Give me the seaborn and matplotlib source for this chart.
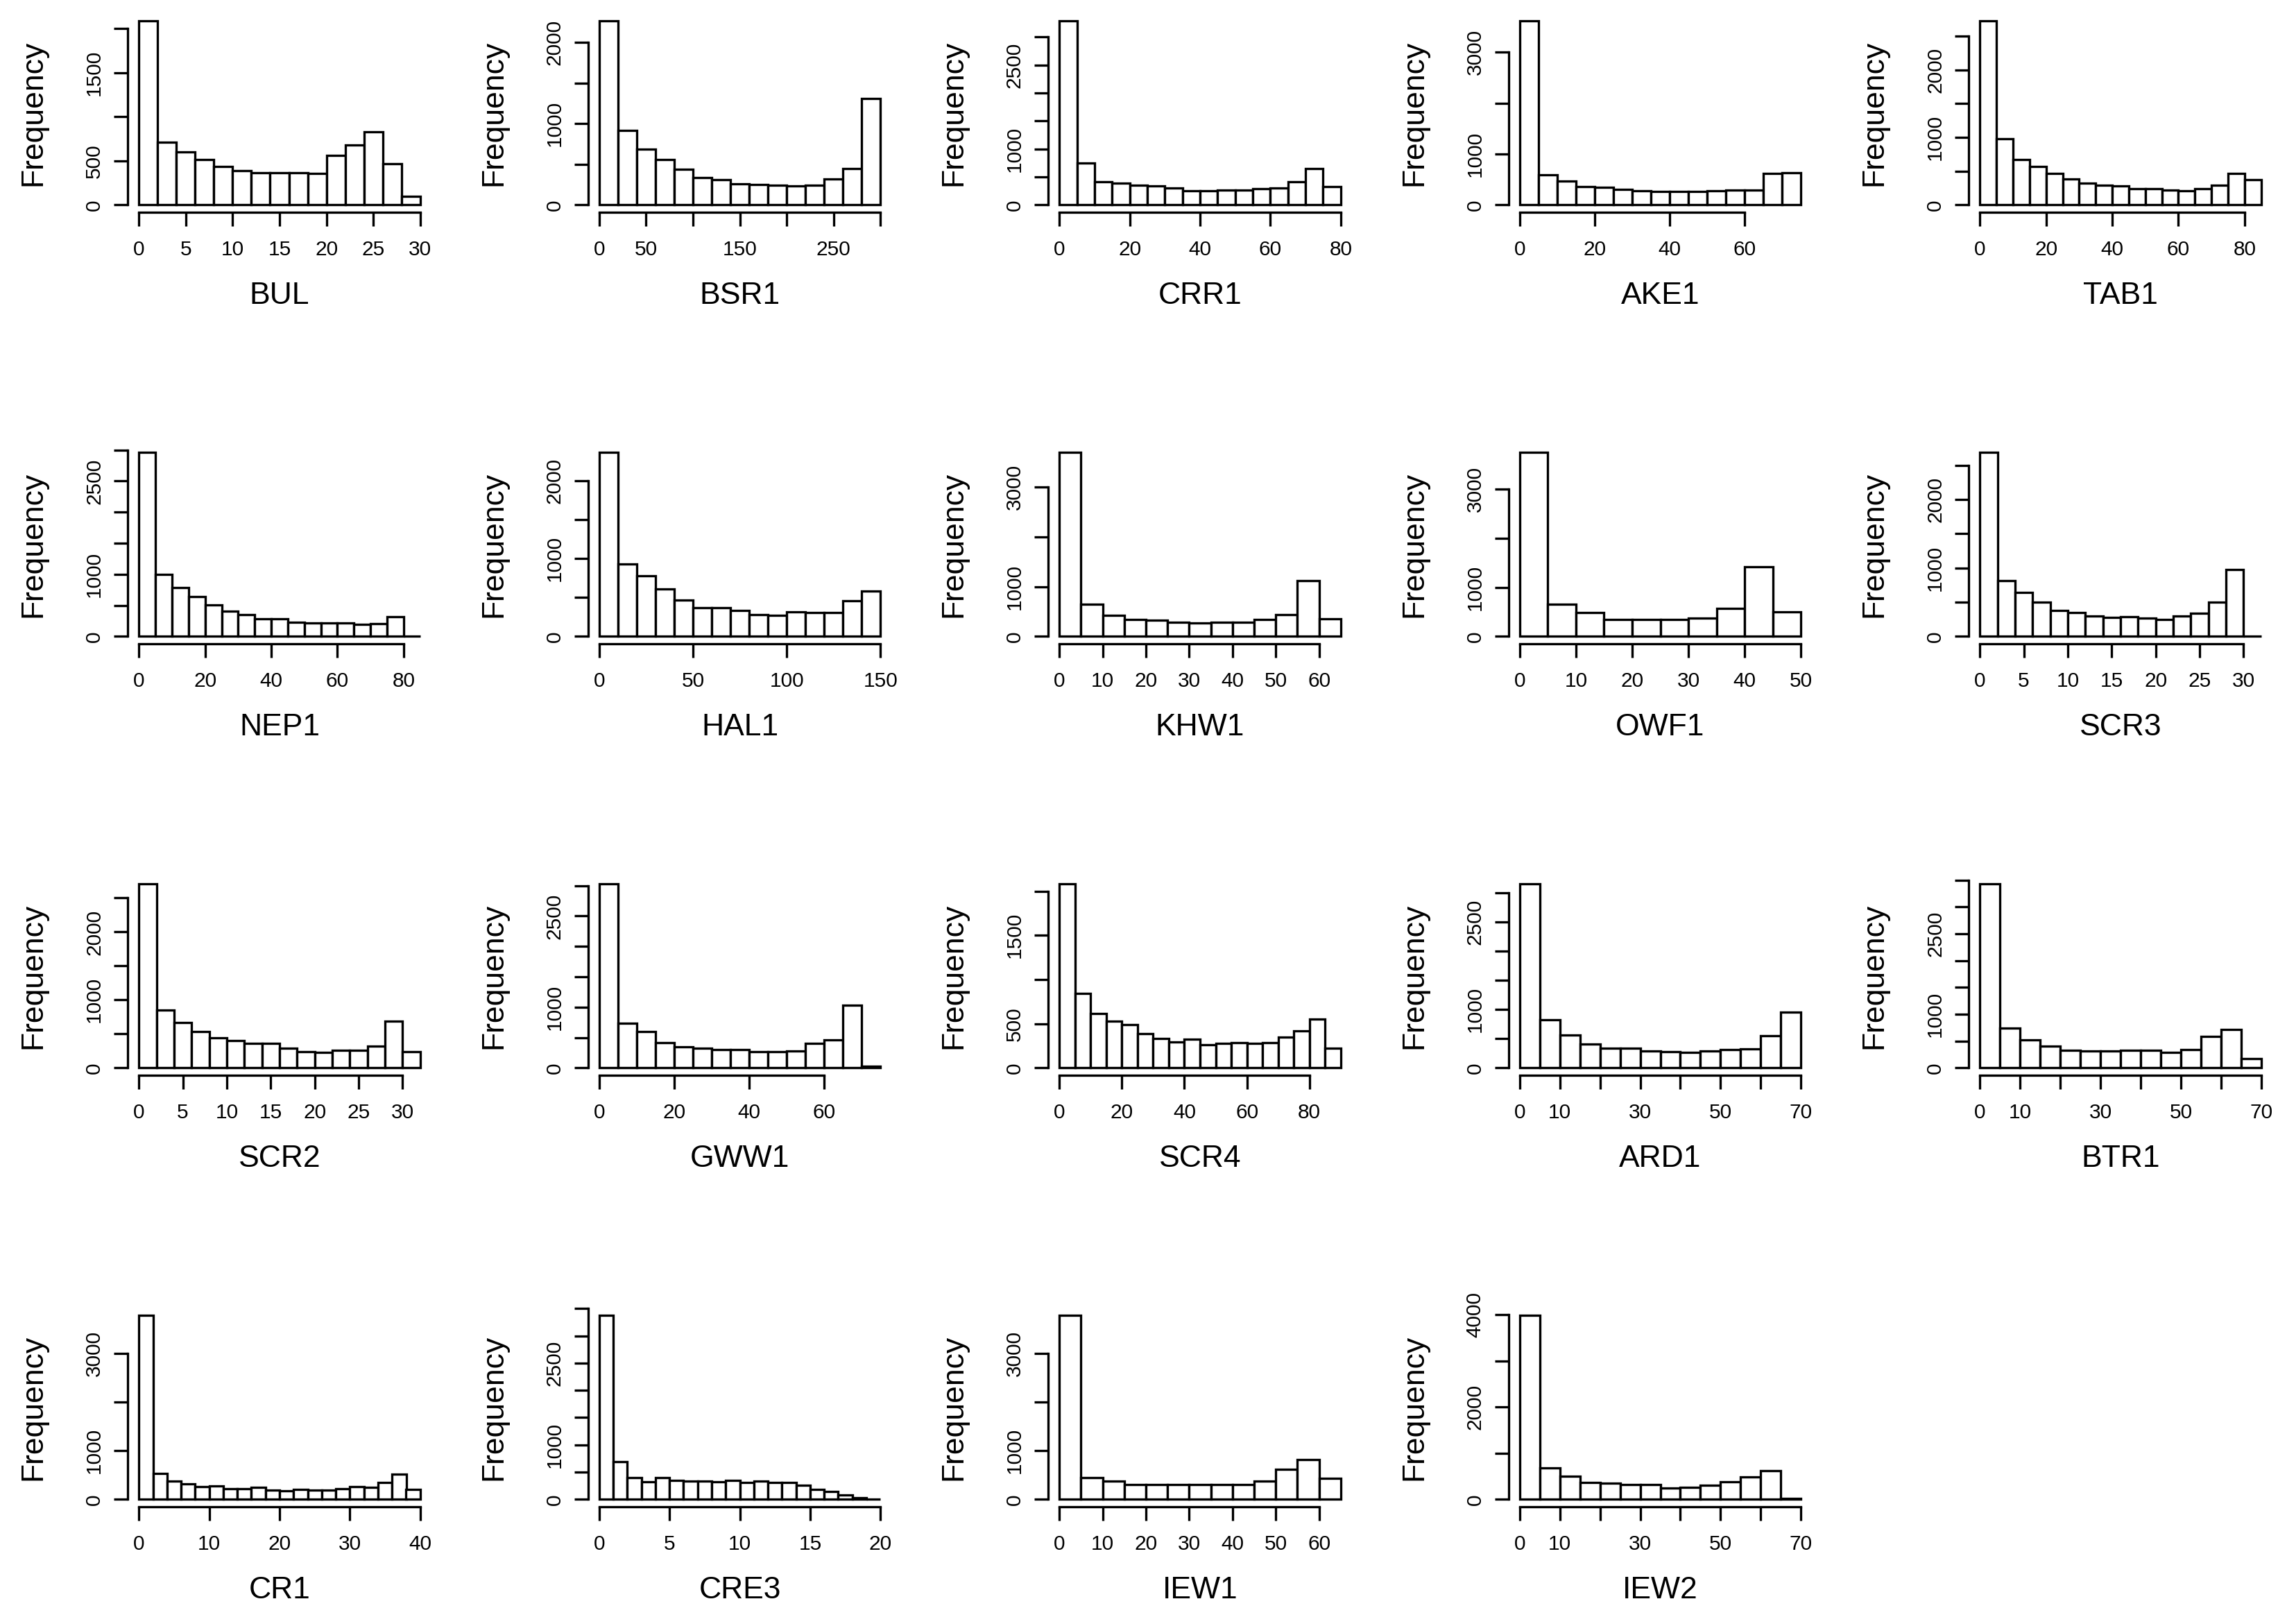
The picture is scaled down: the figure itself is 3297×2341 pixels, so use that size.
import numpy as np
import pandas as pd
import matplotlib
matplotlib.use("Agg")
import matplotlib.pyplot as plt
import seaborn as sns

# ---------------- data ----------------
NAMES = ["BUL", "BSR1", "CRR1", "AKE1", "TAB1",
         "NEP1", "HAL1", "KHW1", "OWF1", "SCR3",
         "SCR2", "GWW1", "SCR4", "ARD1", "BTR1",
         "CR1", "CRE3", "IEW1", "IEW2"]

BUL = [2090, 714, 601, 517, 433, 391, 367, 367, 367, 360, 564, 680, 832, 470, 97]
BSR1 = [2271, 917, 689, 556, 439, 333, 313, 262, 254, 245, 236, 245, 322, 447, 1311]
CRR1 = [3293, 748, 413, 388, 355, 339, 302, 256, 248, 264, 264, 289, 306, 413, 649, 331]
AKE1 = [3623, 591, 464, 364, 341, 305, 273, 259, 259, 259, 273, 286, 286, 623, 632]
TAB1 = [2729, 983, 675, 572, 462, 384, 325, 288, 277, 240, 240, 223, 212, 236, 288, 462, 373]
NEP1 = [2966, 996, 784, 642, 504, 407, 354, 287, 287, 231, 220, 213, 213, 194, 205, 317, 0]
HAL1 = [2373, 931, 776, 609, 466, 373, 373, 331, 281, 275, 319, 310, 310, 460, 588]
KHW1 = [3698, 642, 419, 335, 321, 279, 265, 288, 279, 335, 442, 1116, 358]
OWF1 = [3750, 651, 481, 349, 340, 340, 377, 566, 1410, 495]
SCR3 = [2695, 814, 641, 498, 380, 346, 295, 278, 285, 268, 244, 295, 339, 498, 973, 0]
SCR2 = [2713, 853, 672, 536, 444, 403, 365, 358, 290, 239, 229, 263, 263, 324, 683, 239]
GWW1 = [3034, 733, 599, 412, 351, 324, 298, 298, 267, 267, 279, 401, 466, 1031, 30]
SCR4 = [2087, 840, 617, 533, 491, 388, 333, 297, 328, 262, 281, 289, 276, 289, 346, 420, 556, 223]
ARD1 = [3155, 821, 567, 405, 337, 337, 286, 278, 266, 290, 310, 329, 556, 960]
BTR1 = [3435, 746, 526, 409, 332, 315, 315, 332, 332, 289, 345, 582, 711, 172]
CR1 = [3786, 538, 371, 319, 262, 276, 224, 224, 252, 190, 181, 205, 190, 190, 214, 262, 252, 343, 514, 200]
CRE3 = [3380, 693, 395, 327, 395, 349, 332, 332, 319, 349, 306, 340, 306, 306, 255, 183, 149, 85, 30, 5]
IEW1 = [3786, 452, 381, 300, 300, 310, 310, 310, 300, 371, 619, 824, 429]
IEW2 = [3990, 678, 503, 367, 352, 317, 317, 241, 266, 302, 377, 487, 618, 25]

COUNTS = [BUL, BSR1, CRR1, AKE1, TAB1, NEP1, HAL1, KHW1, OWF1, SCR3,
          SCR2, GWW1, SCR4, ARD1, BTR1, CR1, CRE3, IEW1, IEW2]
BIN_WIDTH = [2, 20, 5, 5, 5, 5, 10, 5, 5, 2, 2, 5, 5, 5, 5, 2, 1, 5, 5]

YTICK_STEP = [500, 500, 500, 1000, 500, 500, 500, 1000, 1000, 500,
              500, 500, 500, 500, 500, 1000, 500, 1000, 1000]
YTICK_SHOWN = [[0, 500, 1500], [0, 1000, 2000], [0, 1000, 2500], [0, 1000, 3000], [0, 1000, 2000],
               [0, 1000, 2500], [0, 1000, 2000], [0, 1000, 3000], [0, 1000, 3000], [0, 1000, 2000],
               [0, 1000, 2000], [0, 1000, 2500], [0, 500, 1500], [0, 1000, 2500], [0, 1000, 2500],
               [0, 1000, 3000], [0, 1000, 2500], [0, 1000, 3000], [0, 2000, 4000]]
XTICK_STEP = [5, 50, 20, 20, 20, 20, 50, 10, 10, 5,
              5, 20, 20, 10, 10, 10, 5, 10, 10]
XTICK_HIDDEN = [[], [100, 200, 300], [], [], [], [], [], [], [], [],
                [], [], [], [20, 40, 60], [20, 40, 60], [], [], [], [20, 40, 60]]

# ---------------- style ----------------
sns.set_theme(style="white")
plt.rcParams["font.family"] = ["Liberation Sans", "DejaVu Sans"]

W, H = 3297, 2341
DPI = 100
PX = DPI / 72.0  # pixels per point

fig = plt.figure(figsize=(W / DPI, H / DPI), dpi=DPI)
fig.patch.set_facecolor("white")

COL_LEFT0, COL_PITCH, PW = 184, 663.5, 438
ROW_BOT0, ROW_PITCH, PH = 306.0, 622, 287

LABEL_FS = 32
TICK_FS = 21.5
AX_LW = 2.4
BAR_LW = 2.4
TICK_LEN = 20 / PX

for i, name in enumerate(NAMES):
    r, c = divmod(i, 5)
    left = COL_LEFT0 + COL_PITCH * c
    bottom_y = ROW_BOT0 + ROW_PITCH * r
    ax = fig.add_axes([left / W, 1 - bottom_y / H, PW / W, PH / H])

    counts = np.array(COUNTS[i], dtype=float)
    bw = BIN_WIDTH[i]
    edges = [float(k * bw) for k in range(len(counts) + 1)]
    centers = [(edges[k] + edges[k + 1]) / 2 for k in range(len(counts))]
    df = pd.DataFrame({"value": centers, "count": counts})
    sns.histplot(data=df, x="value", weights="count", bins=edges, ax=ax,
                 color="white", edgecolor="black", linewidth=BAR_LW, alpha=1)

    xlo, xhi = edges[0], edges[-1]
    xs = xhi - xlo
    ymax = counts.max()
    ax.set_xlim(xlo - 0.04 * xs, xhi + 0.04 * xs)
    ax.set_ylim(-0.04 * ymax, 1.04 * ymax)

    yt = np.arange(0, 1.04 * ymax + 1e-9, YTICK_STEP[i])
    xt = np.arange(0, xhi + 0.04 * xs + 1e-9, XTICK_STEP[i])
    ax.set_yticks(yt)
    ax.set_yticklabels([str(int(t)) if int(t) in YTICK_SHOWN[i] else "" for t in yt],
                       rotation=90, ha="center", va="center")
    ax.set_xticks(xt)
    ax.set_xticklabels(["" if int(t) in XTICK_HIDDEN[i] else str(int(t)) for t in xt],
                       va="center")

    for s in ["top", "right"]:
        ax.spines[s].set_visible(False)
    ax.spines["left"].set_bounds(yt[0], yt[-1])
    ax.spines["bottom"].set_bounds(xt[0], xt[-1])
    for s in ["left", "bottom"]:
        ax.spines[s].set_linewidth(AX_LW)
        ax.spines[s].set_color("black")
        ax.spines[s].set_capstyle("projecting")

    ax.tick_params(axis="both", direction="out", length=TICK_LEN, width=AX_LW,
                   color="black", labelsize=TICK_FS, labelcolor="black",
                   left=True, bottom=True)
    ax.tick_params(axis="y", pad=28 / PX)
    ax.tick_params(axis="x", pad=34 / PX)

    ax.set_ylabel("Frequency", fontsize=LABEL_FS, color="black")
    ax.yaxis.label.set_va("center")
    ax.yaxis.set_label_coords(-136 / PW, 0.5)
    ax.set_xlabel(name, fontsize=LABEL_FS, color="black")
    ax.xaxis.label.set_va("center")
    ax.xaxis.set_label_coords(0.5, -121 / PH)
    ax.grid(False)
    ax.set_facecolor("white")

fig.savefig("out.png", dpi=DPI, facecolor="white")
